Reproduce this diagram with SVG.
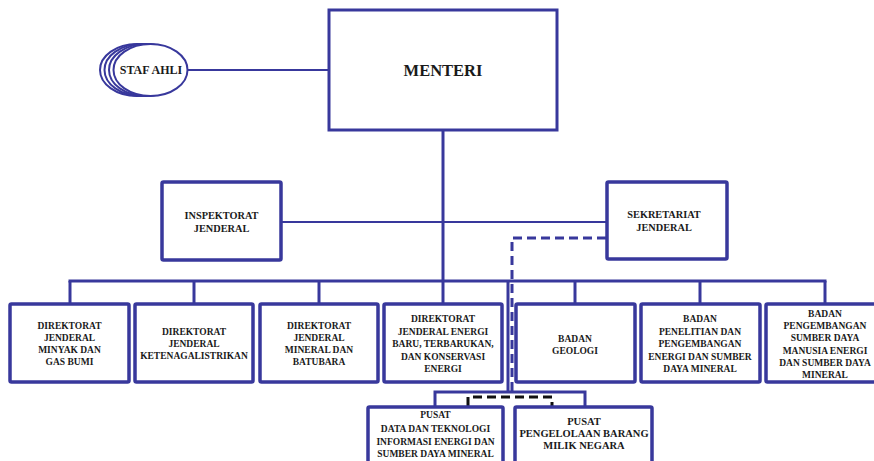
<svg xmlns="http://www.w3.org/2000/svg" width="874" height="461" viewBox="0 0 874 461">
<style>
.box{fill:#fff;stroke:#38389c;stroke-width:3.5}
.thin{fill:#fff;stroke:#38389c;stroke-width:2}
.ln{fill:none;stroke:#38389c;stroke-width:3}
.lt{fill:none;stroke:#38389c;stroke-width:2}
.dash{fill:none;stroke:#38389c;stroke-width:3;stroke-dasharray:9 5}
.bdash{fill:none;stroke:#111;stroke-width:3;stroke-dasharray:9 5}
text{font-family:"Liberation Serif","Times New Roman",serif;font-weight:bold;fill:#1a1a1a;text-anchor:middle;font-size:9.5px}
</style>
<rect width="874" height="461" fill="#fff"/>
<g id="connectors">
<line class="lt" x1="187" y1="70" x2="329" y2="70"/>
<line class="ln" x1="443" y1="130" x2="443" y2="281"/>
<line class="lt" x1="281" y1="222" x2="607" y2="222"/>
<line class="ln" x1="68.5" y1="281" x2="826.5" y2="281"/>
<line class="ln" x1="70" y1="281" x2="70" y2="304"/>
<line class="ln" x1="194" y1="281" x2="194" y2="304"/>
<line class="ln" x1="319" y1="281" x2="319" y2="304"/>
<line class="ln" x1="443" y1="281" x2="443" y2="304"/>
<line class="ln" x1="575" y1="281" x2="575" y2="304"/>
<line class="ln" x1="700" y1="281" x2="700" y2="304"/>
<line class="ln" x1="825" y1="281" x2="825" y2="304"/>
<line class="ln" x1="508" y1="281" x2="508" y2="392"/>
<polyline class="ln" points="435,407 435,392 585,392 585,407"/>
<polyline class="dash" points="606,238 512,238 512,392"/>
<polyline class="bdash" points="468,406 468,397 552,397 552,406"/>
</g>
<g id="staf-ahli">
<ellipse class="thin" cx="137" cy="70" rx="37" ry="26"/>
<ellipse class="thin" cx="141.5" cy="70" rx="37" ry="26"/>
<ellipse class="thin" cx="146" cy="70" rx="37" ry="26"/>
<ellipse class="thin" cx="150.5" cy="70" rx="37" ry="26"/>
<text x="151" y="74" style="font-size:12px">STAF AHLI</text>
</g>
<g id="menteri">
<rect class="box" x="329" y="10" width="228" height="120" style="stroke-width:3"/>
<text x="443" y="76" style="font-size:16.5px">MENTERI</text>
</g>
<g id="inspektorat">
<rect class="box" x="162" y="182" width="119" height="78" rx="1.5"/>
<text x="221.5" y="219" style="font-size:10.3px">INSPEKTORAT</text>
<text x="221.5" y="232" style="font-size:10.3px">JENDERAL</text>
</g>
<g id="sekretariat">
<rect class="box" x="607" y="182" width="120" height="77" rx="1.5"/>
<text x="664" y="218" style="font-size:10.3px">SEKRETARIAT</text>
<text x="664" y="231" style="font-size:10.3px">JENDERAL</text>
</g>
<g id="dj-migas">
<rect class="box" x="10" y="304" width="119" height="78" rx="1.5"/>
<text x="69.5" y="329">DIREKTORAT</text>
<text x="69.5" y="341">JENDERAL</text>
<text x="69.5" y="353">MINYAK DAN</text>
<text x="69.5" y="365">GAS BUMI</text>
</g>
<g id="dj-ketenagalistrikan">
<rect class="box" x="135" y="304" width="118" height="78" rx="1.5"/>
<text x="194" y="335">DIREKTORAT</text>
<text x="194" y="347">JENDERAL</text>
<text x="194" y="359">KETENAGALISTRIKAN</text>
</g>
<g id="dj-minerba">
<rect class="box" x="260" y="304" width="118" height="78" rx="1.5"/>
<text x="319" y="329">DIREKTORAT</text>
<text x="319" y="341">JENDERAL</text>
<text x="319" y="353">MINERAL DAN</text>
<text x="319" y="365">BATUBARA</text>
</g>
<g id="dj-ebtke">
<rect class="box" x="384" y="304" width="118" height="78" rx="1.5"/>
<text x="443" y="322">DIREKTORAT</text>
<text x="443" y="334.5">JENDERAL ENERGI</text>
<text x="443" y="347">BARU, TERBARUKAN,</text>
<text x="443" y="359.5">DAN KONSERVASI</text>
<text x="443" y="372">ENERGI</text>
</g>
<g id="badan-geologi">
<rect class="box" x="516" y="304" width="119" height="78" rx="1.5"/>
<text x="575" y="342">BADAN</text>
<text x="575" y="354">GEOLOGI</text>
</g>
<g id="balitbang">
<rect class="box" x="641" y="304" width="119" height="78" rx="1.5"/>
<text x="700" y="322">BADAN</text>
<text x="700" y="335">PENELITIAN DAN</text>
<text x="700" y="347">PENGEMBANGAN</text>
<text x="700" y="359.5">ENERGI DAN SUMBER</text>
<text x="700" y="372">DAYA MINERAL</text>
</g>
<g id="bpsdm">
<rect class="box" x="766" y="304" width="120" height="78" rx="1.5"/>
<text x="825" y="316.5">BADAN</text>
<text x="825" y="329">PENGEMBANGAN</text>
<text x="825" y="341">SUMBER DAYA</text>
<text x="825" y="354">MANUSIA ENERGI</text>
<text x="825" y="366">DAN SUMBER DAYA</text>
<text x="825" y="378">MINERAL</text>
</g>
<g id="pusdatin">
<rect class="box" x="368" y="407" width="135" height="58" rx="1.5"/>
<text x="435.5" y="418">PUSAT</text>
<text x="435.5" y="432">DATA DAN TEKNOLOGI</text>
<text x="435.5" y="445">INFORMASI ENERGI DAN</text>
<text x="435.5" y="457">SUMBER DAYA MINERAL</text>
</g>
<g id="pusat-bmn">
<rect class="box" x="515" y="407" width="137" height="58" rx="1.5"/>
<text x="584" y="425" style="font-size:10.5px">PUSAT</text>
<text x="584" y="437" style="font-size:10.5px">PENGELOLAAN BARANG</text>
<text x="584" y="449" style="font-size:10.5px">MILIK NEGARA</text>
</g>
</svg>
